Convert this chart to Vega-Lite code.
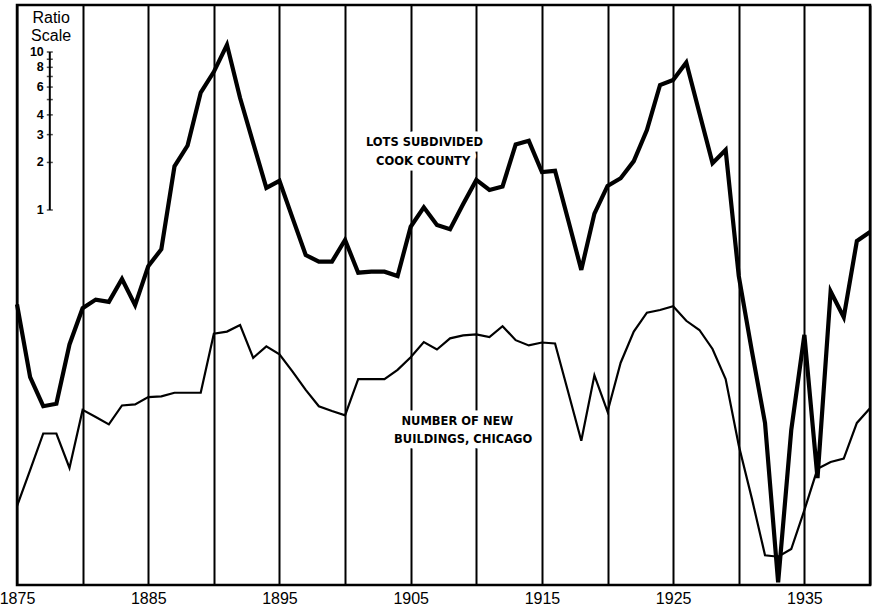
{
  "$schema": "https://vega.github.io/schema/vega-lite/v6.json",
  "width": 853,
  "height": 580,
  "autosize": {"type": "none"},
  "padding": {"left": 17, "top": 5, "right": 5, "bottom": 26},
  "background": "white",
  "config": {"view": {"stroke": "black", "strokeWidth": 2.5}},
  "datasets": {
    "lots": [
      {"year": 1875, "value": 0.253}, {"year": 1876, "value": 0.0875}, {"year": 1877, "value": 0.0573},
      {"year": 1878, "value": 0.0594}, {"year": 1879, "value": 0.141}, {"year": 1880, "value": 0.239},
      {"year": 1881, "value": 0.271}, {"year": 1882, "value": 0.262}, {"year": 1883, "value": 0.366},
      {"year": 1884, "value": 0.25}, {"year": 1885, "value": 0.44}, {"year": 1886, "value": 0.565},
      {"year": 1887, "value": 1.89}, {"year": 1888, "value": 2.56}, {"year": 1889, "value": 5.54},
      {"year": 1890, "value": 7.49}, {"year": 1891, "value": 11.1}, {"year": 1892, "value": 5.11},
      {"year": 1893, "value": 2.65}, {"year": 1894, "value": 1.38}, {"year": 1895, "value": 1.53},
      {"year": 1896, "value": 0.889}, {"year": 1897, "value": 0.519}, {"year": 1898, "value": 0.471},
      {"year": 1899, "value": 0.471}, {"year": 1900, "value": 0.646}, {"year": 1901, "value": 0.401},
      {"year": 1902, "value": 0.407}, {"year": 1903, "value": 0.407}, {"year": 1904, "value": 0.382},
      {"year": 1905, "value": 0.784}, {"year": 1906, "value": 1.04}, {"year": 1907, "value": 0.804},
      {"year": 1908, "value": 0.756}, {"year": 1909, "value": 1.09}, {"year": 1910, "value": 1.55},
      {"year": 1911, "value": 1.34}, {"year": 1912, "value": 1.41}, {"year": 1913, "value": 2.6},
      {"year": 1914, "value": 2.74}, {"year": 1915, "value": 1.74}, {"year": 1916, "value": 1.77},
      {"year": 1917, "value": 0.864}, {"year": 1918, "value": 0.418}, {"year": 1919, "value": 0.949},
      {"year": 1920, "value": 1.42}, {"year": 1921, "value": 1.59}, {"year": 1922, "value": 2.04},
      {"year": 1923, "value": 3.21}, {"year": 1924, "value": 6.18}, {"year": 1925, "value": 6.65},
      {"year": 1926, "value": 8.59}, {"year": 1927, "value": 4.11}, {"year": 1928, "value": 1.98},
      {"year": 1929, "value": 2.4}, {"year": 1930, "value": 0.382}, {"year": 1931, "value": 0.128},
      {"year": 1932, "value": 0.0449}, {"year": 1933, "value": 0.0044}, {"year": 1934, "value": 0.0405},
      {"year": 1935, "value": 0.162}, {"year": 1936, "value": 0.0201}, {"year": 1937, "value": 0.305},
      {"year": 1938, "value": 0.21}, {"year": 1939, "value": 0.637}, {"year": 1940, "value": 0.726}
    ],
    "buildings": [
      {"year": 1875, "value": 0.01334}, {"year": 1876, "value": 0.0226}, {"year": 1877, "value": 0.0385},
      {"year": 1878, "value": 0.0385}, {"year": 1879, "value": 0.0233}, {"year": 1880, "value": 0.0543},
      {"year": 1881, "value": 0.049}, {"year": 1882, "value": 0.044}, {"year": 1883, "value": 0.0579},
      {"year": 1884, "value": 0.0588}, {"year": 1885, "value": 0.0655}, {"year": 1886, "value": 0.0661},
      {"year": 1887, "value": 0.0697}, {"year": 1888, "value": 0.0697}, {"year": 1889, "value": 0.0697},
      {"year": 1890, "value": 0.165}, {"year": 1891, "value": 0.17}, {"year": 1892, "value": 0.187},
      {"year": 1893, "value": 0.116}, {"year": 1894, "value": 0.137}, {"year": 1895, "value": 0.122},
      {"year": 1896, "value": 0.0948}, {"year": 1897, "value": 0.0727}, {"year": 1898, "value": 0.0573},
      {"year": 1899, "value": 0.0534}, {"year": 1900, "value": 0.0502}, {"year": 1901, "value": 0.0851},
      {"year": 1902, "value": 0.0851}, {"year": 1903, "value": 0.0851}, {"year": 1904, "value": 0.0973},
      {"year": 1905, "value": 0.117}, {"year": 1906, "value": 0.146}, {"year": 1907, "value": 0.131},
      {"year": 1908, "value": 0.154}, {"year": 1909, "value": 0.161}, {"year": 1910, "value": 0.163},
      {"year": 1911, "value": 0.157}, {"year": 1912, "value": 0.184}, {"year": 1913, "value": 0.15},
      {"year": 1914, "value": 0.139}, {"year": 1915, "value": 0.145}, {"year": 1916, "value": 0.143},
      {"year": 1917, "value": 0.0705}, {"year": 1918, "value": 0.0346}, {"year": 1919, "value": 0.0899},
      {"year": 1920, "value": 0.0529}, {"year": 1921, "value": 0.108}, {"year": 1922, "value": 0.17},
      {"year": 1923, "value": 0.224}, {"year": 1924, "value": 0.233}, {"year": 1925, "value": 0.246},
      {"year": 1926, "value": 0.199}, {"year": 1927, "value": 0.174}, {"year": 1928, "value": 0.132},
      {"year": 1929, "value": 0.0851}, {"year": 1930, "value": 0.0323}, {"year": 1931, "value": 0.0149},
      {"year": 1932, "value": 0.00653}, {"year": 1933, "value": 0.00639}, {"year": 1934, "value": 0.00715},
      {"year": 1935, "value": 0.0126}, {"year": 1936, "value": 0.023}, {"year": 1937, "value": 0.0254},
      {"year": 1938, "value": 0.0267}, {"year": 1939, "value": 0.0449}, {"year": 1940, "value": 0.0557}
    ],
    "ratio": [
      {"value": 1, "label": "1"}, {"value": 2, "label": "2"}, {"value": 3, "label": "3"},
      {"value": 4, "label": "4"}, {"value": 5, "label": ""}, {"value": 6, "label": "6"},
      {"value": 7, "label": ""}, {"value": 8, "label": "8"}, {"value": 9, "label": ""},
      {"value": 10, "label": "10"}
    ],
    "heading": [
      {"text": "Ratio", "value": 15.3},
      {"text": "Scale", "value": 11.75}
    ],
    "notes": [
      {"year": 1906.05, "value": 2.67, "text": "LOTS SUBDIVIDED"},
      {"year": 1905.95, "value": 2.02, "text": "COOK COUNTY"},
      {"year": 1908.55, "value": 0.0457, "text": "NUMBER OF NEW"},
      {"year": 1909.0, "value": 0.035, "text": "BUILDINGS, CHICAGO"}
    ]
  },
  "layer": [
    {
      "encoding": {
        "x": {
          "field": "year",
          "type": "quantitative",
          "title": null,
          "scale": {"domain": [1875, 1940], "nice": false, "zero": false},
          "axis": {
            "values": [1875, 1880, 1885, 1890, 1895, 1900, 1905, 1910, 1915, 1920, 1925, 1930, 1935, 1940],
            "grid": true,
            "gridColor": "black",
            "gridWidth": 2,
            "gridOpacity": 1,
            "domain": false,
            "ticks": false,
            "labelExpr": "datum.value % 10 == 5 ? format(datum.value, 'd') : ''",
            "labelFont": "Liberation Sans",
            "labelFontSize": 16,
            "labelColor": "black",
            "labelPadding": 5,
            "labelFlush": false,
            "labelOverlap": false,
            "labelBound": false,
            "title": null
          }
        },
        "y": {
          "field": "value",
          "type": "quantitative",
          "scale": {"type": "log", "domain": [0.004232, 19.84], "nice": false},
          "axis": null
        }
      },
      "layer": [
        {
          "data": {"name": "lots"},
          "mark": {"type": "line", "color": "black", "strokeWidth": 4.2, "strokeJoin": "miter"}
        },
        {
          "data": {"name": "buildings"},
          "mark": {"type": "line", "color": "black", "strokeWidth": 2.2, "strokeJoin": "miter"}
        },
        {
          "data": {"name": "notes"},
          "mark": {
            "type": "text",
            "align": "center",
            "baseline": "middle",
            "font": "DejaVu Sans",
            "fontWeight": "bold",
            "fontSize": 11.5,
            "color": "white",
            "stroke": "white",
            "strokeWidth": 11,
            "strokeJoin": "round"
          },
          "encoding": {"text": {"field": "text"}}
        },
        {
          "data": {"name": "notes"},
          "mark": {
            "type": "text",
            "align": "center",
            "baseline": "middle",
            "font": "DejaVu Sans",
            "fontWeight": "bold",
            "fontSize": 11.5,
            "color": "black"
          },
          "encoding": {"text": {"field": "text"}}
        }
      ]
    },
    {
      "data": {"values": [{}]},
      "mark": {"type": "rule", "color": "black", "strokeWidth": 2},
      "encoding": {
        "x": {"datum": 1877.5, "type": "quantitative", "title": null, "scale": {"domain": [1875, 1940], "nice": false, "zero": false}},
        "y": {"datum": 1, "type": "quantitative", "scale": {"type": "log", "domain": [0.004232, 19.84], "nice": false}, "axis": null},
        "y2": {"datum": 10}
      }
    },
    {
      "data": {"name": "ratio"},
      "mark": {"type": "tick", "orient": "horizontal", "color": "black", "size": 6, "thickness": 1.5},
      "encoding": {
        "x": {"datum": 1877.5, "type": "quantitative", "title": null, "scale": {"domain": [1875, 1940], "nice": false, "zero": false}},
        "y": {"field": "value", "type": "quantitative", "scale": {"type": "log", "domain": [0.004232, 19.84], "nice": false}, "axis": null}
      }
    },
    {
      "data": {"name": "ratio"},
      "mark": {
        "type": "text",
        "align": "right",
        "baseline": "middle",
        "dx": -6,
        "font": "Liberation Sans Narrow, Liberation Sans",
        "fontWeight": "bold",
        "fontSize": 12.5,
        "color": "black"
      },
      "encoding": {
        "x": {"datum": 1877.5, "type": "quantitative", "title": null, "scale": {"domain": [1875, 1940], "nice": false, "zero": false}},
        "y": {"field": "value", "type": "quantitative", "scale": {"type": "log", "domain": [0.004232, 19.84], "nice": false}, "axis": null},
        "text": {"field": "label"}
      }
    },
    {
      "data": {"name": "heading"},
      "mark": {
        "type": "text",
        "align": "center",
        "baseline": "alphabetic",
        "font": "Liberation Sans",
        "fontSize": 16,
        "color": "black"
      },
      "encoding": {
        "x": {"datum": 1877.6, "type": "quantitative", "title": null, "scale": {"domain": [1875, 1940], "nice": false, "zero": false}},
        "y": {"field": "value", "type": "quantitative", "scale": {"type": "log", "domain": [0.004232, 19.84], "nice": false}, "axis": null},
        "text": {"field": "text"}
      }
    }
  ]
}
